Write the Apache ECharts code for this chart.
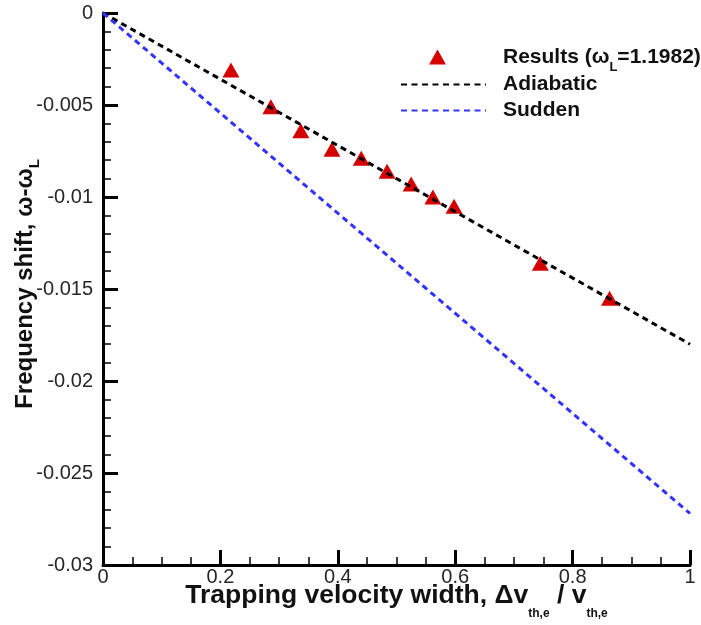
<!DOCTYPE html>
<html>
<head>
<meta charset="utf-8">
<script src="https://cdn.jsdelivr.net/npm/echarts@6/dist/echarts.min.js"></script>
<style>
  html, body { margin: 0; padding: 0; background: #fff; }
  #chart { width: 701px; height: 625px; }
</style>
</head>
<body>
<div id="chart"></div>
<script>
// measured points (triangles)
const resultX = [0.218, 0.286, 0.337, 0.390, 0.440, 0.484, 0.525, 0.562, 0.598, 0.745, 0.863];
const resultY = [-0.0031, -0.0051, -0.0064, -0.0074, -0.0079, -0.0086, -0.0093, -0.0100, -0.0105, -0.0136, -0.0155];
// model lines
const lineX = [0, 1];
const adiabaticY = [0, -0.018];
const suddenY = [0, -0.0272];
// axis ticks
const xTicks = [0, 0.2, 0.4, 0.6, 0.8, 1];
const yTicks = [0, -0.005, -0.01, -0.015, -0.02, -0.025, -0.03];

const FONT = '"Liberation Sans", Arial, Helvetica, sans-serif';
const zip = (xs, ys) => xs.map((x, i) => [x, ys[i]]);

const chart = echarts.init(document.getElementById('chart'), null, {renderer: 'canvas'});

//坐标轴公共样式
const axisCommon = {
    type: 'value',
    nameMoveOverlap: false,
    axisLine: {show: true, onZero: false, lineStyle: {color: '#000', width: 3}},
    axisTick: {show: true, inside: true, length: 15, lineStyle: {color: '#000', width: 3}},
    minorTick: {show: true, length: 8, lineStyle: {color: '#000', width: 1.5}},
    splitLine: {show: false},
    axisLabel: {color: '#262626', fontSize: 20, fontFamily: FONT}
};

const legendRich = {
    sp: {width: 12},
    sp2: {width: 52},
    m: {fontSize: 21, fontWeight: 'bold', fontFamily: FONT, lineHeight: 24, verticalAlign: 'middle', color: '#111'},
    s: {fontSize: 13, fontWeight: 'bold', fontFamily: FONT, lineHeight: 13, verticalAlign: 'top', padding: [16, 0, 0, 0], color: '#111'}
};
const legendCommon = {
    orient: 'horizontal',
    padding: 0,
    itemHeight: 15,
    selectedMode: false,
    textStyle: {color: '#111', fontSize: 21, fontWeight: 'bold', fontFamily: FONT, rich: legendRich}
};
const lineLegend = Object.assign({}, legendCommon, {
    left: 400,
    itemWidth: 85,
    itemStyle: {opacity: 0},
    formatter: name => '{sp|}{m|' + name + '}'
});

chart.setOption({
    animation: false,
    backgroundColor: '#fff',
    grid: {left: 103, right: 11, top: 13, bottom: 60, containLabel: false, outerBoundsMode: 'none'},
    legend: [
        Object.assign({}, legendCommon, {
            left: 429,
            top: 45,
            itemWidth: 17,
            icon: 'triangle',
            data: ['Results'],
            formatter: () => '{sp2|}{m|Results (ω}{s|L}{m|=1.1982)}'
        }),
        Object.assign({}, lineLegend, {top: 74, data: ['Adiabatic']}),
        Object.assign({}, lineLegend, {top: 100, data: ['Sudden']})
    ],
    xAxis: Object.assign({}, axisCommon, {
        min: xTicks[0],
        max: xTicks[xTicks.length - 1],
        interval: 0.2,
        minorTick: Object.assign({}, axisCommon.minorTick, {splitNumber: 4}),
        axisLabel: Object.assign({}, axisCommon.axisLabel, {
            margin: 2,
            formatter: v => String(+v.toFixed(2))
        }),
        name: '{m|Trapping velocity width, Δv}{s|th,e}{m| / v}{s|th,e}',
        nameLocation: 'middle',
        nameGap: 17,
        nameTextStyle: {
            rich: {
                m: {fontSize: 26.5, fontWeight: 'bold', fontFamily: FONT, lineHeight: 30, verticalAlign: 'top', color: '#111'},
                s: {fontSize: 12, fontWeight: 'bold', fontFamily: FONT, lineHeight: 12, verticalAlign: 'top', padding: [26, 0, 0, 0], color: '#111'}
            }
        }
    }),
    yAxis: Object.assign({}, axisCommon, {
        min: yTicks[yTicks.length - 1],
        max: yTicks[0],
        interval: 0.005,
        minorTick: Object.assign({}, axisCommon.minorTick, {splitNumber: 5}),
        axisLabel: Object.assign({}, axisCommon.axisLabel, {
            margin: 10,
            formatter: v => String(+v.toFixed(4))
        }),
        name: '{m|Frequency shift, ω-ω}{s|L}',
        nameLocation: 'middle',
        nameGap: 62,
        nameTextStyle: {
            padding: [0, 0, 0, 10],
            rich: {
                m: {fontSize: 24, fontWeight: 'bold', fontFamily: FONT, lineHeight: 28, verticalAlign: 'top', color: '#111'},
                s: {fontSize: 15, fontWeight: 'bold', fontFamily: FONT, lineHeight: 15, verticalAlign: 'top', padding: [14.5, 0, 0, 0], color: '#111'}
            }
        }
    }),
    series: [{
        name: 'Results',
        type: 'scatter',
        symbol: 'triangle',
        symbolSize: [17, 15],
        itemStyle: {color: '#d40000', opacity: 1},
        data: zip(resultX, resultY),
        z: 2
    }, {
        name: 'Adiabatic',
        type: 'line',
        symbol: 'none',
        lineStyle: {color: '#000', width: 3, type: [6, 4.5]},
        data: zip(lineX, adiabaticY),
        z: 3
    }, {
        name: 'Sudden',
        type: 'line',
        symbol: 'none',
        lineStyle: {color: '#3333ff', width: 3, type: [6, 4.5]},
        data: zip(lineX, suddenY),
        z: 3
    }]
});
</script>
</body>
</html>
